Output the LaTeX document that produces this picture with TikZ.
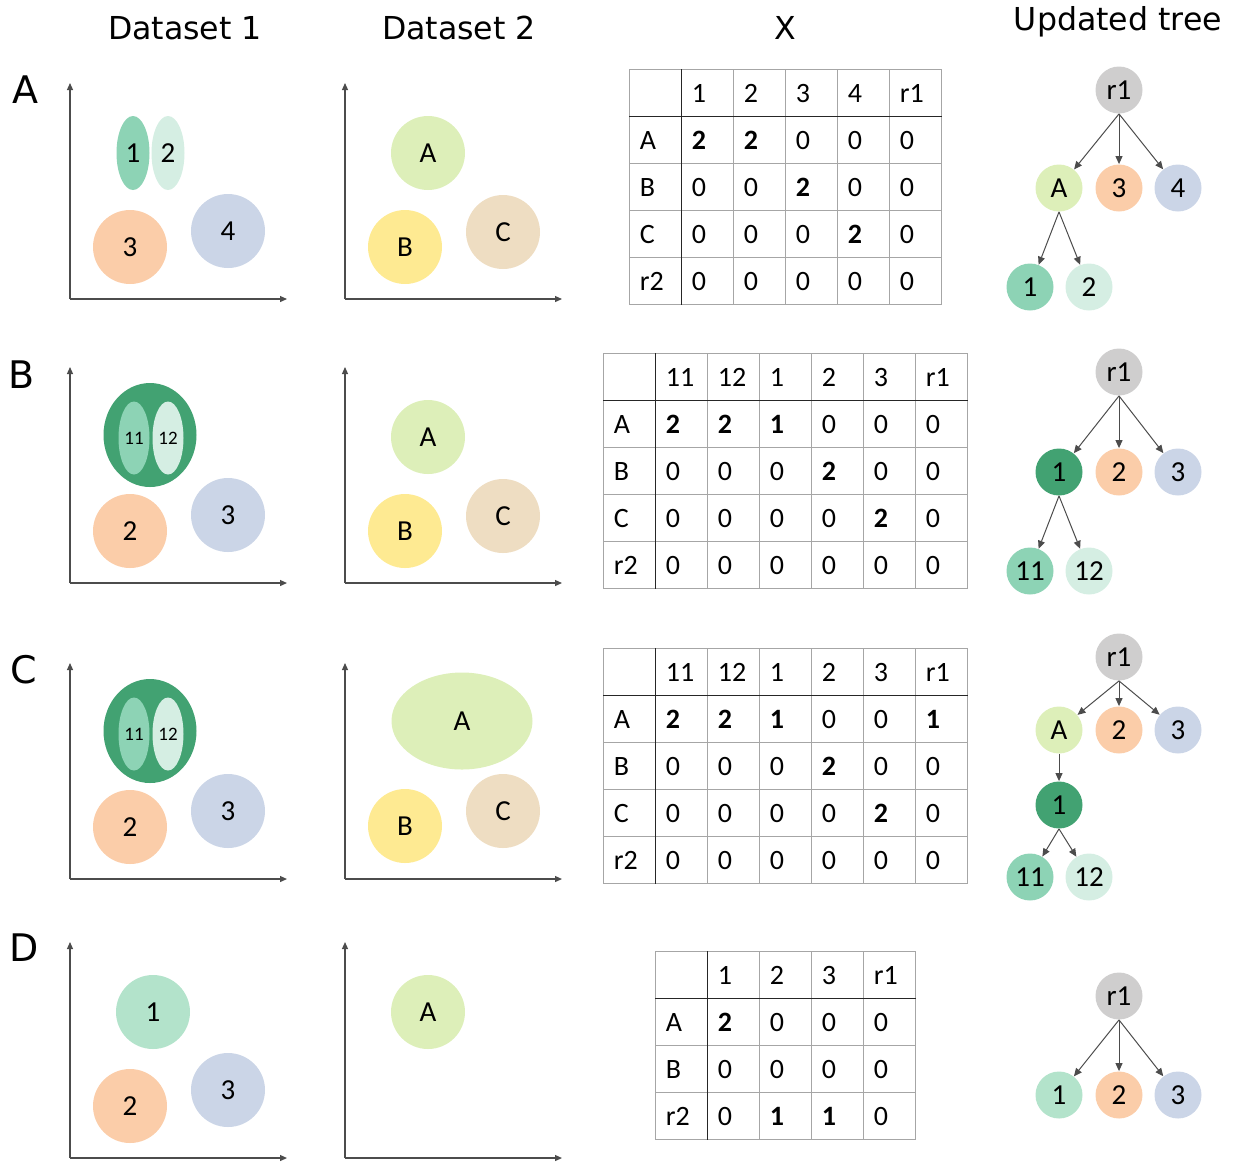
\documentclass[tikz,border=0pt]{standalone}
\usepackage{fontspec}
\setmainfont{Carlito}
\newfontfamily\headfont{DejaVu Sans}
\usepackage{xcolor}
\usetikzlibrary{arrows.meta,positioning,shapes.geometric,matrix}

\definecolor{cgreenA}{HTML}{8DD3B5}
\definecolor{cgreenB}{HTML}{D5EEE3}
\definecolor{cgreenC}{HTML}{42A272}
\definecolor{cmint}{HTML}{B3E3CB}
\definecolor{corange}{HTML}{FBCDA9}
\definecolor{cblue}{HTML}{CBD5E7}
\definecolor{clime}{HTML}{DDEFB9}
\definecolor{cyellow}{HTML}{FEEA92}
\definecolor{ctan}{HTML}{EEDDC2}
\definecolor{cgrey}{HTML}{CFCECE}

\begin{document}
\begin{tikzpicture}[x=0.5pt, y=-0.5pt,
  head/.style={font=\headfont\fontsize{15.8}{18}\selectfont},
  rowlbl/.style={font=\headfont\fontsize{19}{22}\selectfont},
  axis/.style={draw=black!70, line width=0.6pt, -{Triangle[length=3.5pt,width=3pt]}},
  blob/.style={circle, inner sep=0pt, minimum size=37pt, font=\fontsize{14.5}{16}\selectfont},
  oval/.style={ellipse, inner sep=0pt, font=\fontsize{14.5}{16}\selectfont},
  small/.style={font=\fontsize{9.5}{11}\selectfont},
  tnode/.style={circle, inner sep=0pt, minimum size=23.5pt, font=\fontsize{14.5}{16}\selectfont},
  tarrow/.style={draw=black!70, line width=0.5pt, -{Triangle[length=4pt,width=3.5pt]}},
  xtab/.style={matrix of nodes, nodes in empty cells, inner sep=0pt, anchor=north west,
    column sep=-0.5pt, row sep=-0.5pt,
    nodes={draw=black!35, line width=0.5pt, minimum width=26pt, minimum height=23.5pt,
      text width=16pt, inner xsep=5pt, inner ysep=0pt, align=left,
      text height=9pt, text depth=0pt, font=\fontsize{14}{15}\selectfont}},
  tabrule/.style={draw=black!85, line width=0.8pt}
]
\useasboundingbox (0,0) rectangle (1236,1164);

% column headers
\node[head] (hd1) at (185,28) {Dataset 1};
\node[head] (hd2) at (459,28) {Dataset 2};
\node[head] (hdX) at (785,28) {X};
\node[head] (hdT) at (1118,22) {Updated tree};

% row letters
\node[rowlbl] (rowA) at (25,90) {A};
\node[rowlbl] (rowB) at (22,375) {B};
\node[rowlbl] (rowC) at (24,670) {C};
\node[rowlbl] (rowD) at (24,948) {D};

% ---- row A ----
\coordinate (a1o) at (70,299);
\draw[axis] (a1o) -- ++(0,-216);
\draw[axis] (a1o) -- ++(217,0);
\node[oval, fill=cgreenA, minimum width=16.5pt, minimum height=37pt] (a1c1) at (133,153) {1};
\node[oval, fill=cgreenB, minimum width=16.5pt, minimum height=37pt] (a1c2) at (168,153) {2};
\node[blob, fill=corange] (a1c3) at (130,247) {3};
\node[blob, fill=cblue] (a1c4) at (228,231) {4};

\coordinate (a2o) at (345,299);
\draw[axis] (a2o) -- ++(0,-216);
\draw[axis] (a2o) -- ++(217,0);
\node[blob, fill=clime] (a2A) at (428,153) {A};
\node[blob, fill=cyellow] (a2B) at (405,247) {B};
\node[blob, fill=ctan] (a2C) at (503,232) {C};

\matrix (tabA) [xtab] at (629,69) {
     & 1 & 2 & 3 & 4 & r1\\
  A  & \textbf{2} & \textbf{2} & 0 & 0 & 0\\
  B  & 0 & 0 & \textbf{2} & 0 & 0\\
  C  & 0 & 0 & 0 & \textbf{2} & 0\\
  r2 & 0 & 0 & 0 & 0 & 0\\
};
\draw[tabrule] (tabA-1-2.north west) -- (tabA-5-2.south west);
\draw[tabrule] (tabA-2-1.north west) -- (tabA-2-6.north east);

\node[tnode, fill=cgrey] (taR) at (1119,90) {r1};
\node[tnode, fill=clime] (taA) at (1059,188) {A};
\node[tnode, fill=corange] (ta3) at (1119,188) {3};
\node[tnode, fill=cblue] (ta4) at (1178,188) {4};
\node[tnode, fill=cgreenA] (ta1) at (1030,287) {1};
\node[tnode, fill=cgreenB] (ta2) at (1089,287) {2};
\draw[tarrow] (taR.south) -- (taA);
\draw[tarrow] (taR.south) -- (ta3);
\draw[tarrow] (taR.south) -- (ta4);
\draw[tarrow] (taA.south) -- (ta1);
\draw[tarrow] (taA.south) -- (ta2);

% ---- row B ----
\coordinate (b1o) at (70,583);
\draw[axis] (b1o) -- ++(0,-216);
\draw[axis] (b1o) -- ++(217,0);
\node[ellipse, fill=cgreenC, minimum width=46.5pt, minimum height=52pt] (b1c1) at (150,435) {};
\node[oval, small, fill=cgreenA, minimum width=15.5pt, minimum height=36.5pt] (b1c11) at (134,438) {11};
\node[oval, small, fill=cgreenB, minimum width=15.5pt, minimum height=36.5pt] (b1c12) at (168,438) {12};
\node[blob, fill=corange] (b1c2) at (130,531) {2};
\node[blob, fill=cblue] (b1c3) at (228,515) {3};

\coordinate (b2o) at (345,583);
\draw[axis] (b2o) -- ++(0,-216);
\draw[axis] (b2o) -- ++(217,0);
\node[blob, fill=clime] (b2A) at (428,437) {A};
\node[blob, fill=cyellow] (b2B) at (405,531) {B};
\node[blob, fill=ctan] (b2C) at (503,516) {C};

\matrix (tabB) [xtab] at (603,353) {
     & 11 & 12 & 1 & 2 & 3 & r1\\
  A  & \textbf{2} & \textbf{2} & \textbf{1} & 0 & 0 & 0\\
  B  & 0 & 0 & 0 & \textbf{2} & 0 & 0\\
  C  & 0 & 0 & 0 & 0 & \textbf{2} & 0\\
  r2 & 0 & 0 & 0 & 0 & 0 & 0\\
};
\draw[tabrule] (tabB-1-2.north west) -- (tabB-5-2.south west);
\draw[tabrule] (tabB-2-1.north west) -- (tabB-2-7.north east);

\node[tnode, fill=cgrey] (tbR) at (1119,372) {r1};
\node[tnode, fill=cgreenC] (tb1) at (1059,472) {1};
\node[tnode, fill=corange] (tb2) at (1119,472) {2};
\node[tnode, fill=cblue] (tb3) at (1178,472) {3};
\node[tnode, fill=cgreenA] (tb11) at (1030,571) {11};
\node[tnode, fill=cgreenB] (tb12) at (1089,571) {12};
\draw[tarrow] (tbR.south) -- (tb1);
\draw[tarrow] (tbR.south) -- (tb2);
\draw[tarrow] (tbR.south) -- (tb3);
\draw[tarrow] (tb1.south) -- (tb11);
\draw[tarrow] (tb1.south) -- (tb12);

% ---- row C ----
\coordinate (c1o) at (70,879);
\draw[axis] (c1o) -- ++(0,-216);
\draw[axis] (c1o) -- ++(217,0);
\node[ellipse, fill=cgreenC, minimum width=46.5pt, minimum height=52pt] (c1c1) at (150,731) {};
\node[oval, small, fill=cgreenA, minimum width=15.5pt, minimum height=36.5pt] (c1c11) at (134,734) {11};
\node[oval, small, fill=cgreenB, minimum width=15.5pt, minimum height=36.5pt] (c1c12) at (168,734) {12};
\node[blob, fill=corange] (c1c2) at (130,827) {2};
\node[blob, fill=cblue] (c1c3) at (228,811) {3};

\coordinate (c2o) at (345,879);
\draw[axis] (c2o) -- ++(0,-216);
\draw[axis] (c2o) -- ++(217,0);
\node[oval, fill=clime, minimum width=70.5pt, minimum height=48.5pt] (c2A) at (462,721) {A};
\node[blob, fill=cyellow] (c2B) at (405,826) {B};
\node[blob, fill=ctan] (c2C) at (503,811) {C};

\matrix (tabC) [xtab] at (603,648) {
     & 11 & 12 & 1 & 2 & 3 & r1\\
  A  & \textbf{2} & \textbf{2} & \textbf{1} & 0 & 0 & \textbf{1}\\
  B  & 0 & 0 & 0 & \textbf{2} & 0 & 0\\
  C  & 0 & 0 & 0 & 0 & \textbf{2} & 0\\
  r2 & 0 & 0 & 0 & 0 & 0 & 0\\
};
\draw[tabrule] (tabC-1-2.north west) -- (tabC-5-2.south west);
\draw[tabrule] (tabC-2-1.north west) -- (tabC-2-7.north east);

\node[tnode, fill=cgrey] (tcR) at (1119,657) {r1};
\node[tnode, fill=clime] (tcA) at (1059,730) {A};
\node[tnode, fill=corange] (tc2) at (1119,730) {2};
\node[tnode, fill=cblue] (tc3) at (1178,730) {3};
\node[tnode, fill=cgreenC] (tc1) at (1059,805) {1};
\node[tnode, fill=cgreenA] (tc11) at (1030,877) {11};
\node[tnode, fill=cgreenB] (tc12) at (1089,877) {12};
\draw[tarrow] (tcR.south) -- (tcA);
\draw[tarrow] (tcR.south) -- (tc2);
\draw[tarrow] (tcR.south) -- (tc3);
\draw[tarrow] (tcA) -- (tc1);
\draw[tarrow] (tc1.south) -- (tc11);
\draw[tarrow] (tc1.south) -- (tc12);

% ---- row D ----
\coordinate (d1o) at (70,1158);
\draw[axis] (d1o) -- ++(0,-216);
\draw[axis] (d1o) -- ++(217,0);
\node[blob, fill=cmint] (d1c1) at (153,1012) {1};
\node[blob, fill=corange] (d1c2) at (130,1106) {2};
\node[blob, fill=cblue] (d1c3) at (228,1090) {3};

\coordinate (d2o) at (345,1158);
\draw[axis] (d2o) -- ++(0,-216);
\draw[axis] (d2o) -- ++(217,0);
\node[blob, fill=clime] (d2A) at (428,1012) {A};

\matrix (tabD) [xtab] at (655,951) {
     & 1 & 2 & 3 & r1\\
  A  & \textbf{2} & 0 & 0 & 0\\
  B  & 0 & 0 & 0 & 0\\
  r2 & 0 & \textbf{1} & \textbf{1} & 0\\
};
\draw[tabrule] (tabD-1-2.north west) -- (tabD-4-2.south west);
\draw[tabrule] (tabD-2-1.north west) -- (tabD-2-5.north east);

\node[tnode, fill=cgrey] (tdR) at (1119,996) {r1};
\node[tnode, fill=cmint] (td1) at (1059,1095) {1};
\node[tnode, fill=corange] (td2) at (1119,1095) {2};
\node[tnode, fill=cblue] (td3) at (1178,1095) {3};
\draw[tarrow] (tdR.south) -- (td1);
\draw[tarrow] (tdR.south) -- (td2);
\draw[tarrow] (tdR.south) -- (td3);
\end{tikzpicture}
\end{document}
